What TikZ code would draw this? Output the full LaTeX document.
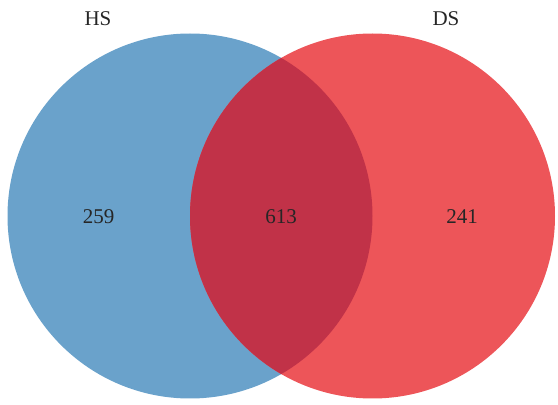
\documentclass[tikz,border=0pt]{standalone}
\usepackage{fontspec}
\setmainfont{Liberation Serif}
\definecolor{hsblue}{HTML}{6AA2CB}
\definecolor{dsred}{HTML}{ED5559}
\definecolor{overlap}{HTML}{C13248}
\definecolor{txt}{HTML}{262626}
\begin{document}
\begin{tikzpicture}[x=1pt,y=1pt,
  lbl/.style={font=\fontsize{21}{23}\selectfont, text=txt, inner sep=0pt}]
\useasboundingbox (0,0) rectangle (558,405);
\coordinate (cl) at (190,189);
\coordinate (cr) at (372.5,189);
\fill[hsblue] (cl) circle (182.5);
\fill[dsred] (cr) circle (182.5);
\begin{scope}
  \clip (cl) circle (182.5);
  \fill[overlap] (cr) circle (182.5);
\end{scope}
\node[lbl] (hs) at (98,386.5) {HS};
\node[lbl] (ds) at (446,386.5) {DS};
\node[lbl] (a) at (98.5,188) {259};
\node[lbl] (b) at (281,188) {613};
\node[lbl] (c) at (462,188) {241};
\end{tikzpicture}
\end{document}
